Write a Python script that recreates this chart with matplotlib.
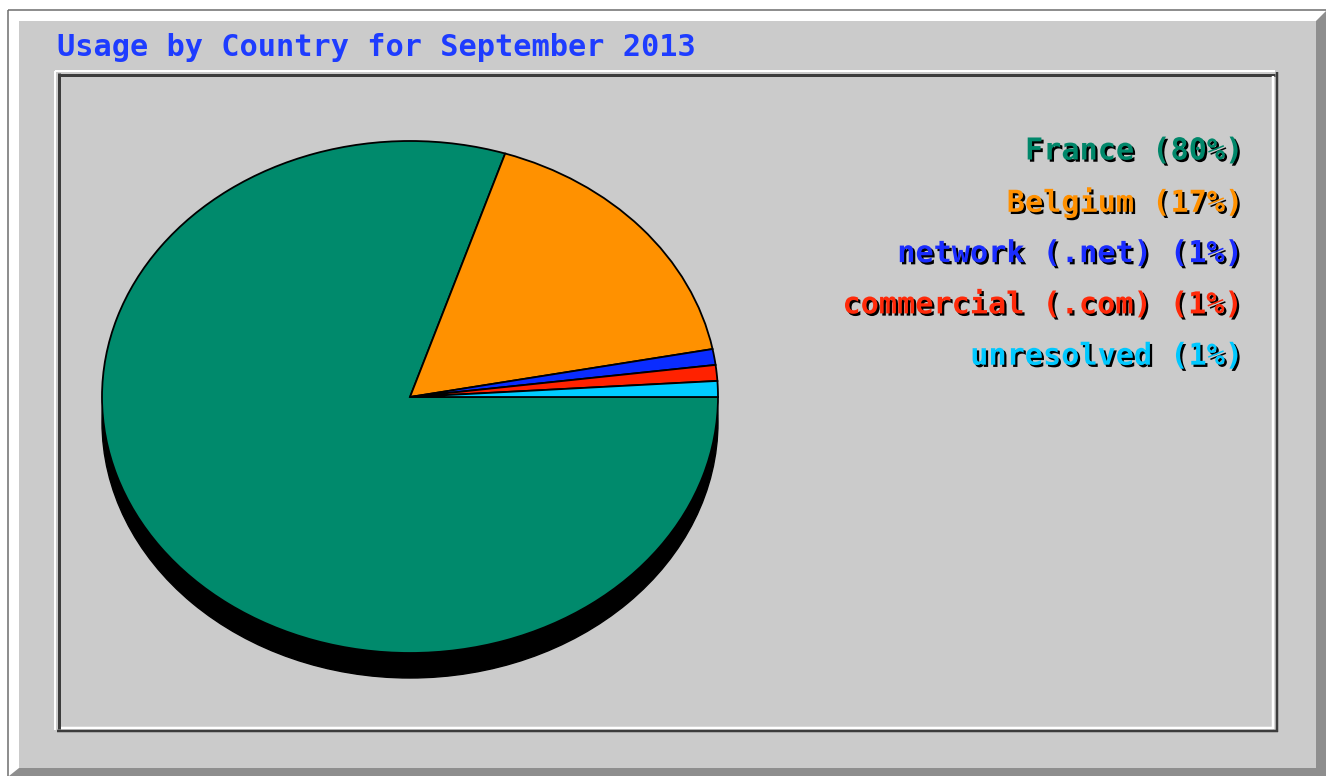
import matplotlib
matplotlib.use("Agg")
import matplotlib.pyplot as plt
from matplotlib.patches import Polygon, Rectangle, Ellipse
from matplotlib import patheffects as pe

# Monthly usage by country
title = "Usage by Country for September 2013"
countries = ["France", "Belgium", "network (.net)", "commercial (.com)", "unresolved"]
percents = [80, 17, 1, 1, 1]
slice_colors = ["#008a6c", "#ff9100", "#0a2cff", "#ff2200", "#00ccff"]
label_colors = ["#00876a", "#ff9000", "#1a2cff", "#ff2a0a", "#00c8ff"]

W, H = 1326, 776
DPI = 100
fig = plt.figure(figsize=(W / DPI, H / DPI), dpi=DPI, facecolor="white")

# Full-figure canvas in pixel units for the frame and text
bg = fig.add_axes([0, 0, 1, 1])
bg.set_xlim(0, W)
bg.set_ylim(H, 0)
bg.axis("off")

px = 72.0 / DPI  # one pixel in points
GRAY = "#cbcbcb"
DARK = "#3c3c3c"

# Raised outer frame
bg.add_patch(Rectangle((9, 11), W - 9, H - 11, facecolor="#8e8e8e", edgecolor="none"))
bg.add_patch(Polygon([(9, 11), (W, 11), (1316, 21), (19, 21), (19, 768), (9, 776)],
                     closed=True, facecolor="white", edgecolor="none"))
bg.add_patch(Rectangle((19, 21), 1316 - 19, 768 - 21, facecolor=GRAY, edgecolor="none"))
bg.plot([8, 8], [10, H], color="#6a6a6a", lw=1.5 * px, solid_capstyle="butt")
bg.plot([8, W], [10, 10], color="#6a6a6a", lw=1.5 * px, solid_capstyle="butt")

# Sunken inner panel
bg.plot([55, 1275], [71, 71], color="white", lw=2 * px, solid_capstyle="butt")
bg.plot([55, 55], [71, 730], color="white", lw=2 * px, solid_capstyle="butt")
bg.plot([58, 1275], [74.5, 74.5], color=DARK, lw=3 * px, solid_capstyle="butt")
bg.plot([59, 59], [73, 729], color=DARK, lw=3 * px, solid_capstyle="butt")
bg.plot([61, 1273], [727.5, 727.5], color="white", lw=2.5 * px, solid_capstyle="butt")
bg.plot([1272.5, 1272.5], [76, 729], color="white", lw=2.5 * px, solid_capstyle="butt")
bg.plot([57, 1278], [731, 731], color=DARK, lw=2.5 * px, solid_capstyle="butt")
bg.plot([1276.5, 1276.5], [72, 732], color=DARK, lw=2.5 * px, solid_capstyle="butt")

font = dict(family="DejaVu Sans Mono", weight="bold", fontsize=21.75)

bg.text(57, 48, title, color="#1e3cff", ha="left", va="center", **font)

# Legend entries with drop shadow
shadow = [pe.SimplePatchShadow(offset=(1.6, -1.6), shadow_rgbFace="black", alpha=1.0),
          pe.Normal()]
y0, dy = 151, 51.3
for i, (name, pct, col) in enumerate(zip(countries, percents, label_colors)):
    bg.text(1244, y0 + i * dy, f"{name} ({pct}%)", color=col, ha="right",
            va="center", path_effects=shadow, **font)

# Pie axes: the unit ellipse spans x 102..718, y 141..653 in pixels
cx0, cx1, cy0, cy1 = 102, 718, 141, 653
pie_ax = fig.add_axes([cx0 / W, (H - cy1) / H, (cx1 - cx0) / W, (cy1 - cy0) / H])
depth = 25.0 / ((cy1 - cy0) / 2)
pie_ax.add_patch(Ellipse((0, -depth), 2, 2, facecolor="black", edgecolor="black",
                         lw=1.0, zorder=0, clip_on=False))
pie_ax.pie(percents, colors=slice_colors, startangle=0, counterclock=False,
           wedgeprops=dict(edgecolor="black", linewidth=1.3))
for w in pie_ax.patches:
    w.set_clip_on(False)
pie_ax.set_aspect("auto")
pie_ax.set_xlim(-1, 1)
pie_ax.set_ylim(-1, 1)
pie_ax.axis("off")

fig.savefig("out.png", dpi=DPI, facecolor="white")
